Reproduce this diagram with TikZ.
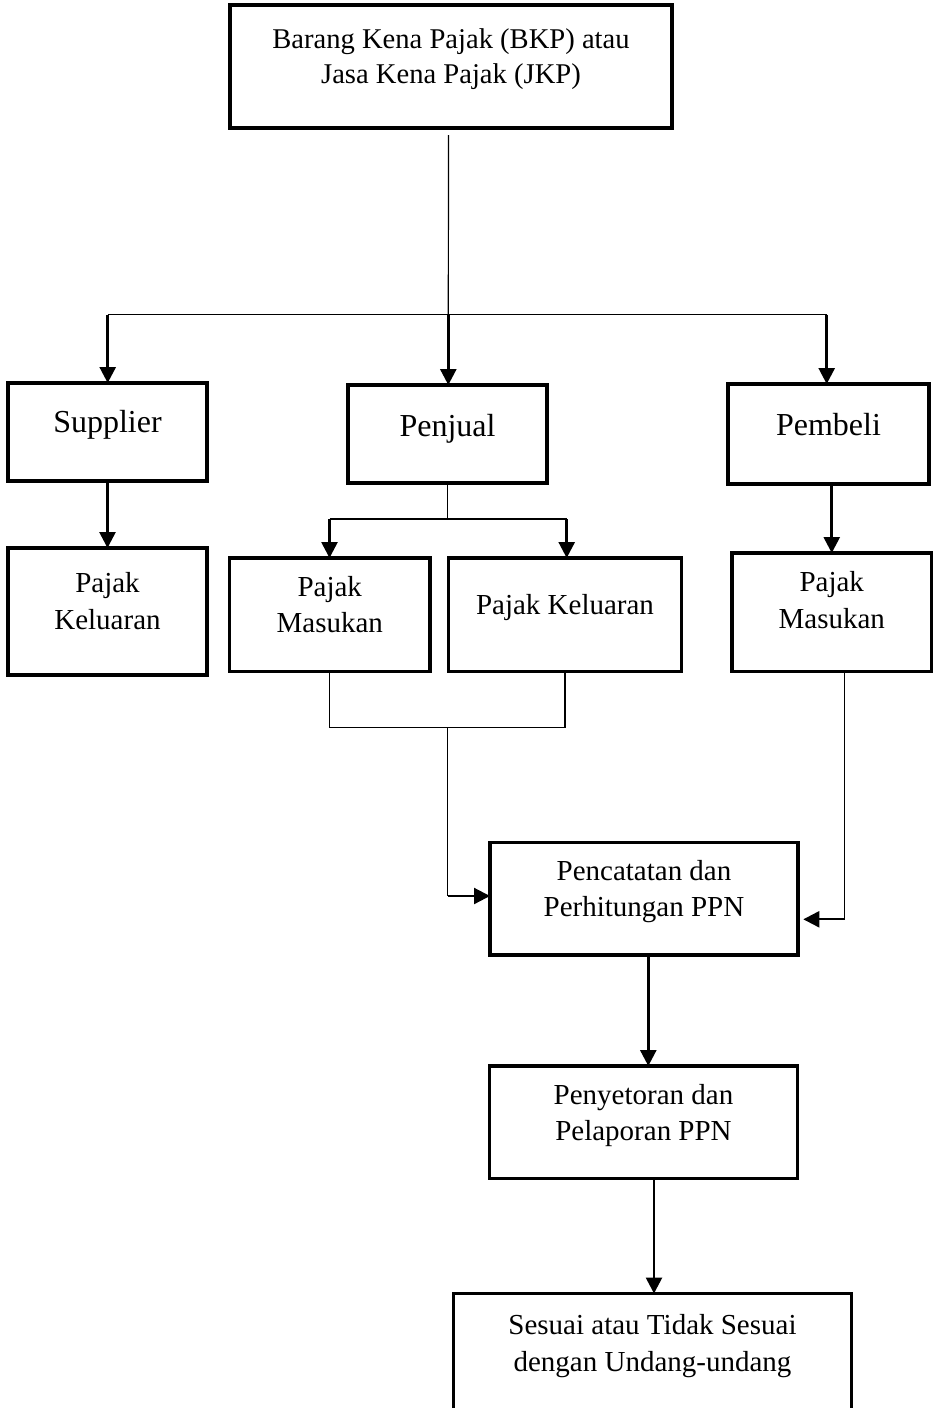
\documentclass[tikz,border=0pt]{standalone}
\usepackage{fontspec}
\setmainfont{Liberation Serif}
\usetikzlibrary{arrows.meta}
\newcommand{\bxt}[4]{\parbox[c][#2pt][t]{#1pt}{\centering\rule{0pt}{#3pt}#4}}
\tikzset{
  boxnode/.style={draw, line width=3.1pt, inner sep=0pt, outer sep=0pt, anchor=north west},
  big/.style={font=\fontsize{32}{38}\selectfont},
  mid/.style={font=\fontsize{29}{36.6}\selectfont},
  topf/.style={font=\fontsize{28.6}{35}\selectfont},
  arr/.style={line width=2.7pt, -{Triangle[length=16pt,width=16pt]}},
  conn/.style={line width=1.5pt},
  thinconn/.style={line width=1.2pt}
}
\begin{document}
\begin{tikzpicture}[x=1pt,y=-1pt]
\useasboundingbox (0,0) rectangle (934,1408);
\clip (0,0) rectangle (934,1408);

\node[boxnode, topf] (top) at (230,5) {\bxt{442}{123}{43}{Barang Kena Pajak (BKP) atau\\Jasa Kena Pajak (JKP)}};
\node[boxnode, big] (sup) at (8,383) {\bxt{199}{98}{49}{Supplier}};
\node[boxnode, big] (pen) at (348,385) {\bxt{199}{98}{51}{Penjual}};
\node[boxnode, big] (pem) at (728,384) {\bxt{201}{100}{51}{Pembeli}};
\node[boxnode, mid] (pk1) at (8,548) {\bxt{199}{127}{44.5}{Pajak\\Keluaran}};
\node[boxnode, mid] (pm1) at (229.5,558) {\bxt{200.5}{113.5}{38}{Pajak\\Masukan}};
\node[boxnode, mid] (pk2) at (448.5,558) {\bxt{233}{113.5}{56}{Pajak Keluaran}};
\node[boxnode, mid] (pm2) at (732,553) {\bxt{199.5}{118.5}{38.5}{Pajak\\Masukan}};
\node[boxnode, mid] (pc) at (490,842.5) {\bxt{308}{112.5}{37.5}{Pencatatan dan\\Perhitungan PPN}};
\node[boxnode, mid] (ps) at (489.5,1066) {\bxt{308}{112.5}{38}{Penyetoran dan\\Pelaporan PPN}};
\node[boxnode, mid] (ss) at (453.5,1293.5) {\bxt{398}{130}{41}{Sesuai atau Tidak Sesuai\\dengan Undang-undang}};

% top distribution
\coordinate (t0) at (448.5,135);
\coordinate (hs) at (107.7,314.5);
\coordinate (hp) at (448.3,314.5);
\coordinate (hb) at (826.7,314.5);
\draw[thinconn] (t0) -- (hp);
\draw[conn] (hs) -- (hb);
\draw[arr] (hs) -- (hs |- sup.north);
\draw[arr] (hp) -- (hp |- pen.north);
\draw[arr] (hb) -- (hb |- pem.north);

% supplier
\draw[arr] (sup.south) -- (pk1.north);

% penjual split
\coordinate (pa) at (329.5,519);
\coordinate (pb) at (566.7,519);
\draw[conn] (pen.south) -- (pen.south |- pa);
\draw[conn] (pa) -- (pb);
\draw[arr] (pa) -- (pa |- pm1.north);
\draw[arr] (pb) -- (pb |- pk2.north);

% pembeli
\draw[arr] (pm2.north |- pem.south) -- (pm2.north);

% merge to pencatatan
\coordinate (m1) at (447.5,727.7);
\coordinate (m2) at (447.5,896);
\draw[thinconn] (pm1.south) -- (pm1.south |- m1) -- (pk2.south |- m1) -- (pk2.south);
\draw[conn] (m1) -- (m2);
\draw[arr, line width=2.2pt] (m2) -- (m2 -| pc.west);

\coordinate (r1) at (844.5,919.3);
\coordinate (r2) at (803.3,919.3);
\draw[thinconn] (r1 |- pm2.south) -- (r1);
\draw[arr, line width=2.2pt] (r1) -- (r2);

% lower chain
\coordinate (v1) at (648.3,1000);
\coordinate (v2) at (654,1230);
\draw[arr] (v1 |- pc.south) -- (v1 |- ps.north);
\draw[arr] (v2 |- ps.south) -- (v2 |- ss.north);
\end{tikzpicture}
\end{document}
